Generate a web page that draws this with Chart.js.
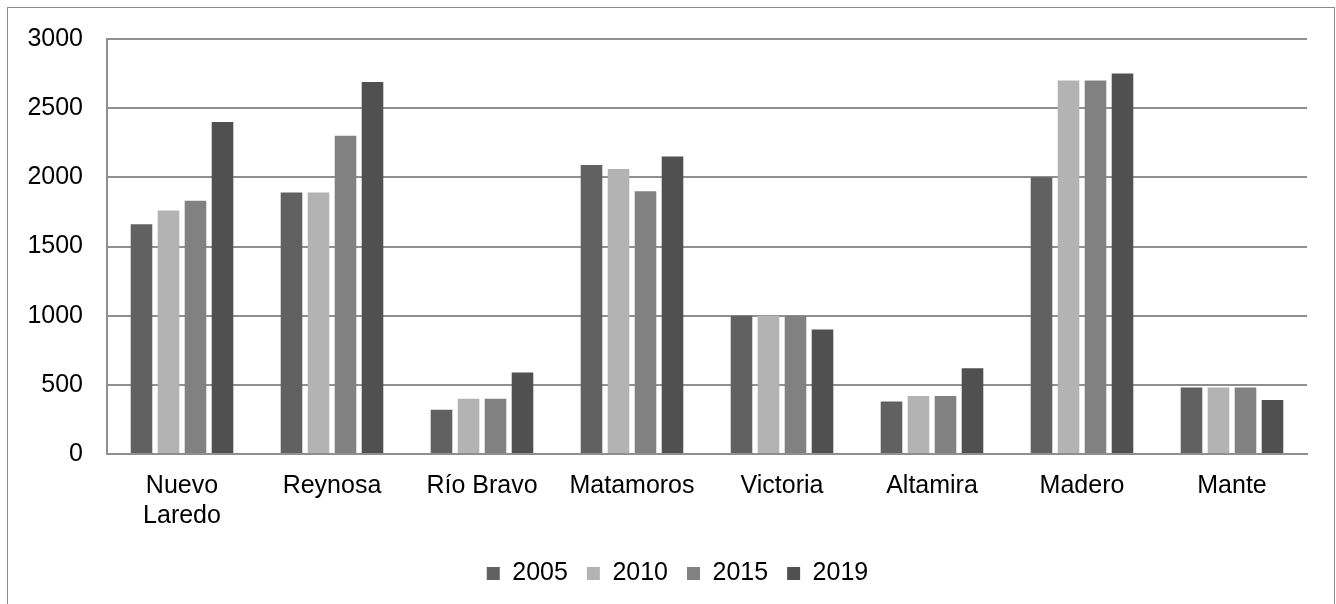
<!DOCTYPE html>
<html>
<head>
<meta charset="utf-8">
<script src="https://cdn.jsdelivr.net/npm/chart.js@4/dist/chart.umd.min.js"></script>
<style>
  html, body { margin: 0; padding: 0; background: #ffffff; }
  #wrap { width: 1336px; height: 604px; position: relative; }
</style>
</head>
<body>
<div id="wrap"><canvas id="chart"></canvas></div>
<script>
// Municipalities along the x axis
const categories = [['Nuevo', 'Laredo'], 'Reynosa', 'Río Bravo', 'Matamoros', 'Victoria', 'Altamira', 'Madero', 'Mante'];

// Values per year
const years = ['2005', '2010', '2015', '2019'];
const values2005 = [1660, 1890, 320, 2090, 1000, 380, 2000, 480];
const values2010 = [1760, 1890, 400, 2060, 1000, 420, 2700, 480];
const values2015 = [1830, 2300, 400, 1900, 1000, 420, 2700, 480];
const values2019 = [2400, 2690, 590, 2150, 900, 620, 2750, 390];

// Y axis ticks
const yTicks = [0, 500, 1000, 1500, 2000, 2500, 3000];

const seriesValues = [values2005, values2010, values2015, values2019];
const seriesColors = ['#616161', '#b3b3b3', '#818181', '#505050'];

const FONT = { family: '"Liberation Sans", Arial, sans-serif', size: 25 };
const GRID = '#8f8f8f';

// white background and thin frame around the whole figure
const framePlugin = {
  id: 'frame',
  beforeDraw(chart) {
    const ctx = chart.ctx;
    ctx.save();
    ctx.fillStyle = '#ffffff';
    ctx.fillRect(0, 0, chart.width, chart.height);
    ctx.strokeStyle = '#8c8c8c';
    ctx.lineWidth = 1;
    ctx.strokeRect(7.5, 7.5, 1327, 640);
    ctx.restore();
  }
};

// center the legend under the plot rather than the whole canvas
const legendShift = {
  id: 'legendShift',
  afterLayout(chart) {
    const lg = chart.legend;
    if (lg) { lg.left += 24; lg.right += 24; }
  }
};

new Chart(document.getElementById('chart'), {
  type: 'bar',
  data: {
    labels: categories,
    datasets: years.map((y, i) => ({
      label: y,
      data: seriesValues[i],
      backgroundColor: seriesColors[i],
      borderWidth: 0,
      categoryPercentage: 0.72,
      barPercentage: 0.8
    }))
  },
  options: {
    responsive: true,
    maintainAspectRatio: false,
    animation: false,
    layout: { padding: { left: 0, right: 29, top: 36, bottom: 8 } },
    plugins: {
      tooltip: { enabled: false },
      legend: {
        position: 'bottom',
        labels: {
          font: FONT,
          color: '#000000',
          boxWidth: 13,
          boxHeight: 13,
          padding: 19
        }
      }
    },
    scales: {
      x: {
        grid: { display: false, drawTicks: false },
        border: { display: true, color: GRID, width: 2 },
        ticks: { font: FONT, color: '#000000', padding: 17, maxRotation: 0, autoSkip: false },
        afterFit(scale) { scale.height = 88; }
      },
      y: {
        min: 0,
        max: 3000,
        afterBuildTicks(scale) { scale.ticks = yTicks.map(v => ({ value: v })); },
        grid: { color: GRID, lineWidth: 2, drawTicks: false },
        border: { display: true, color: GRID, width: 2 },
        ticks: { font: FONT, color: '#000000', padding: 24, callback: v => String(v) },
        afterFit(scale) { scale.width = 107; }
      }
    }
  },
  plugins: [framePlugin, legendShift]
});
</script>
</body>
</html>
